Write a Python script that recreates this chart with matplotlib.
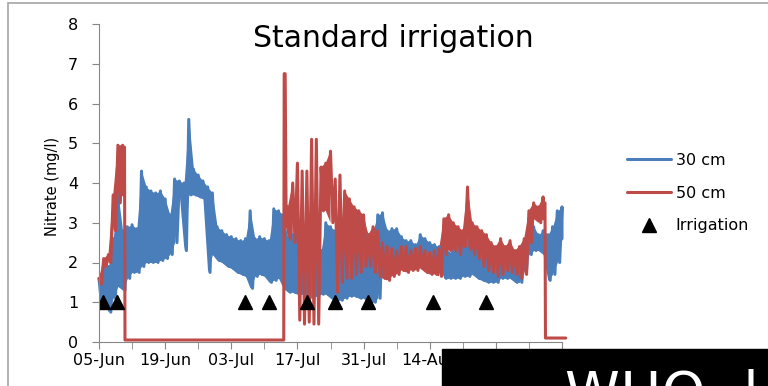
import numpy as np
import matplotlib.pyplot as plt
from matplotlib.patches import Rectangle

# days since 05-Jun, daily upper / lower values of the 30 cm sensor
blue_days = np.arange(0, 99)
blue_hi = [1.6, 2.0, 1.9, 2.6, 3.75, 2.8, 2.9, 2.95, 2.85, 4.3,
           3.9, 3.8, 3.75, 3.8, 3.6, 3.2, 4.1, 4.05, 4.0, 5.6,
           4.35, 4.2, 4.05, 3.9, 3.75, 2.9, 2.8, 2.7, 2.65, 2.6,
           2.55, 2.6, 3.3, 2.6, 2.65, 2.6, 2.55, 3.35, 3.3, 3.2,
           2.6, 2.7, 2.75, 2.8, 2.8, 2.7, 2.6, 2.3, 3.0, 2.9,
           2.8, 2.7, 2.6, 2.7, 2.75, 2.85, 3.0, 2.7, 2.8, 3.2,
           3.25, 2.8, 2.85, 2.85, 2.65, 2.55, 2.55, 2.45, 2.7, 2.6,
           2.5, 2.45, 2.4, 2.3, 2.25, 2.3, 2.4, 2.5, 2.6, 2.3,
           2.3, 2.2, 2.1, 2.0, 2.0, 2.1, 2.1, 2.2, 2.1, 2.3,
           2.5, 2.8, 2.9, 2.7, 2.8, 2.7, 2.9, 3.3, 3.4]
blue_lo = [1.0, 1.0, 0.75, 1.1, 1.4, 1.3, 1.6, 1.75, 1.75, 1.9,
           2.0, 2.0, 2.0, 2.05, 2.1, 2.2, 2.5, 3.7, 2.3, 3.7,
           3.7, 3.65, 3.6, 1.75, 2.2, 2.05, 2.0, 1.9, 1.85, 1.75,
           1.7, 1.65, 1.35, 1.65, 1.7, 1.65, 1.5, 1.55, 1.6, 1.35,
           1.25, 1.25, 1.2, 1.2, 1.15, 1.1, 1.15, 1.2, 1.2, 1.1,
           1.05, 1.05, 1.1, 1.15, 1.15, 1.1, 1.1, 0.95, 1.0, 1.1,
           1.9, 1.95, 2.0, 2.0, 2.0, 1.95, 1.95, 2.0, 2.0, 2.05,
           2.0, 2.0, 1.95, 1.6, 1.6, 1.6, 1.6, 1.65, 1.65, 1.7,
           1.6, 1.55, 1.5, 1.5, 1.5, 1.6, 1.6, 1.6, 1.5, 1.5,
           1.8, 2.2, 2.3, 2.3, 2.2, 1.55, 1.7, 2.0, 2.6]

# 50 cm sensor
red_days = [0, 1, 2, 3, 4, 5, 5.3, 5.5, 39.0, 39.2, 39.6,
            40, 41, 42, 43, 44, 45, 46, 47, 48, 49,
            50, 51, 52, 53, 54, 55, 56, 57, 58, 59,
            60, 61, 62, 63, 64, 65, 66, 67, 68, 69,
            70, 71, 72, 73, 74, 75, 76, 77, 78, 79,
            80, 81, 82, 83, 84, 85, 86, 87, 88, 89,
            90, 91, 92, 93, 94, 94.3, 94.5, 98.8]
red_hi = [1.6, 2.1, 2.2, 3.7, 4.95, 4.95, 4.9, 0.05, 0.05, 6.75, 3.3,
          3.4, 4.0, 4.5, 4.3, 4.3, 5.1, 5.1, 4.4, 4.5, 4.8,
          4.1, 4.2, 3.8, 3.6, 3.4, 3.3, 3.2, 2.7, 2.9, 2.8,
          2.5, 2.4, 2.35, 2.3, 2.4, 2.4, 2.3, 2.35, 2.4, 2.3,
          2.25, 2.3, 2.35, 3.1, 3.2, 3.0, 2.9, 2.8, 3.9, 3.0,
          2.9, 2.8, 2.7, 2.5, 2.4, 2.6, 2.4, 2.55, 2.3, 2.4,
          2.6, 3.3, 3.5, 3.4, 3.65, 3.5, 0.1, 0.1]
red_lo = [1.45, 1.9, 2.0, 2.8, 3.5, 3.7, 4.9, 0.05, 0.05, 6.75, 2.9,
          2.6, 2.5, 0.55, 0.45, 0.5, 0.45, 0.45, 3.3, 3.3, 3.0,
          1.25, 1.5, 1.6, 1.6, 1.7, 1.75, 1.9, 1.9, 1.75, 1.65,
          1.6, 1.55, 1.65, 1.7, 1.8, 1.75, 1.8, 1.8, 1.85, 1.75,
          1.7, 1.7, 1.65, 2.2, 2.3, 2.3, 2.2, 2.4, 2.4, 2.2,
          2.1, 1.9, 1.8, 1.75, 1.65, 1.7, 1.8, 1.75, 1.7, 1.6,
          1.7, 2.5, 3.1, 3.0, 3.1, 3.5, 0.1, 0.1]

irr_days = [0.8, 3.8, 30.8, 35.9, 44.0, 49.9, 57.0, 70.7, 82.0]
irr_vals = [1, 1, 1, 1, 1, 1, 1, 1, 1]

tick_labels = ['05-Jun', '19-Jun', '03-Jul', '17-Jul', '31-Jul', '14-Aug', '28-Aug', '11-Sep']

BLUE = '#4A7EBB'
RED = '#BE4B48'


def zigzag(days, hi, lo):
    # hourly readings swing between a high and a low every day
    x, y = [], []
    for i in range(len(days)):
        nxt = days[i + 1] if i + 1 < len(days) else days[i]
        x += [days[i], (days[i] + nxt) / 2]
        y += [hi[i], lo[i]]
    return x, y


fig = plt.figure(figsize=(7.68, 3.86), dpi=100)
ax = fig.add_axes([99 / 768, 1 - 342 / 386, 463 / 768, 318 / 386])

bhi, blo = np.array(blue_hi), np.array(blue_lo)
rhi, rlo = np.array(red_hi), np.array(red_lo)

# dense diurnal swings show up as a solid band
ax.fill_between(blue_days, blo, bhi, color=BLUE, lw=0, clip_on=False)
bx, by = zigzag(list(blue_days), blue_hi, blue_lo)
ax.plot(bx, by, color=BLUE, lw=2.2, label='30 cm', clip_on=False,
        solid_joinstyle='round', solid_capstyle='round')

ax.fill_between(red_days, rlo, rhi, where=(rhi - rlo) < 2.5, color=RED, lw=0, clip_on=False)
rx, ry = zigzag(red_days, red_hi, red_lo)
ax.plot(rx, ry, color=RED, lw=2.2, label='50 cm', clip_on=False,
        solid_joinstyle='round', solid_capstyle='round')

ax.plot(irr_days, irr_vals, ls='none', marker='^', ms=10, color='black', label='Irrigation')

ax.set_xlim(0, 98)
ax.set_ylim(0, 8)
ax.set_xticks(np.arange(0, 99, 14))
ax.set_xticks(np.arange(0, 99, 7), minor=True)
ax.set_xticklabels(tick_labels)
ax.set_yticks(range(0, 9))
for s in ['top', 'right']:
    ax.spines[s].set_visible(False)
for s in ['left', 'bottom']:
    ax.spines[s].set_color('#868686')
ax.tick_params(axis='both', which='both', direction='out', length=5, color='#868686', labelsize=11.5)
ax.tick_params(axis='y', pad=10)
ax.tick_params(axis='x', pad=3)
ax.set_ylabel('Nitrate (mg/l)', fontsize=10.5)
ax.yaxis.set_label_coords(-0.085, 0.49)

ax.legend(loc='upper left', bbox_to_anchor=(627 / 768, 1 - 153 / 386), bbox_transform=fig.transFigure,
          frameon=False, fontsize=11.5, handlelength=2.75, handletextpad=0.3,
          labelspacing=1.1, borderpad=0, borderaxespad=0)

fig.text(393 / 768, 1 - 47 / 386, 'Standard irrigation', ha='center', va='baseline', fontsize=21.5)

fig.add_artist(Rectangle((8 / 768, -0.5), 2, 1.5 - 3 / 386, transform=fig.transFigure,
                         fill=False, ec='#A6A6A6', lw=1.2))
fig.add_artist(Rectangle((442 / 768, 0), 1, 37 / 386, transform=fig.transFigure,
                         color='black', zorder=5))
# slide overlay: only the top of this caption shows in the screenshot
fig.text(565 / 768, 1 - 369 / 386, 'WHO -l', color='white', fontsize=40,
         ha='left', va='top', zorder=6)

fig.savefig('out.png', dpi=100)
